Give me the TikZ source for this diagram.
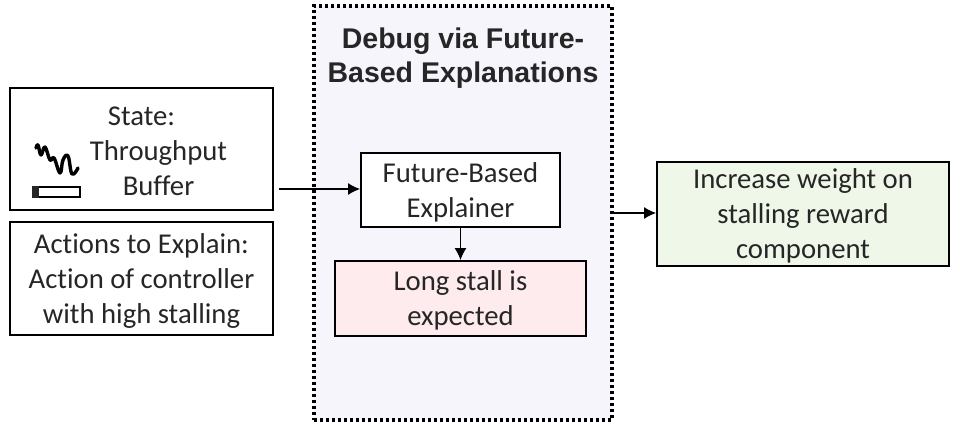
\documentclass[tikz,border=0pt]{standalone}
\usepackage{fontspec}
\setmainfont[Ligatures=NoCommon]{Carlito}
\newfontfamily\headfont{Liberation Sans}
\usetikzlibrary{arrows.meta}
\definecolor{ink}{HTML}{262626}
\definecolor{lav}{HTML}{F6F5FC}
\definecolor{pinkfill}{HTML}{FDEBEE}
\definecolor{greenfill}{HTML}{EFF7E8}
\newcommand{\topfix}{\rule{0pt}{24pt}}
\tikzset{
  x=1pt,y=-1pt,
  box/.style={draw=black,line width=1.8pt,minimum width=#1,inner sep=0pt,align=center,text=ink,font=\fontsize{28.7}{35}\selectfont},
  flow/.style={draw=black,line width=1.5pt,-{Latex[length=12pt,width=12pt]}},
}
\begin{document}
\begin{tikzpicture}
\useasboundingbox (0,0) rectangle (960,425);
\node[draw=black,fill=lav,line width=3.4pt,dash pattern=on 3.2pt off 2.8pt,minimum width=298pt,minimum height=414pt,inner sep=0pt] (dbg) at (463,213) {};
\node[text=ink,font=\headfont\bfseries\fontsize{28.5}{34}\selectfont,align=center,inner sep=0pt] (title) at (463,58) {Debug via Future-\\Based Explanations};
\node[box=263pt,minimum height=122pt,fill=white] (state) at (141.5,149) {\topfix State:\\\hspace*{34pt}Throughput\\\hspace*{34pt}Buffer};
\node[box=263pt,minimum height=113pt,fill=white] (actions) at (141.5,278.5) {\topfix Actions to Explain:\\Action of controller\\with high stalling};
\node[box=199pt,minimum height=74pt,fill=white] (expl) at (460.5,190) {\topfix Future-Based\\Explainer};
\node[box=251pt,minimum height=75pt,fill=pinkfill] (stall) at (460.5,298.5) {\topfix Long stall is\\expected};
\node[box=292pt,minimum height=104pt,fill=greenfill] (incr) at (803,214) {\topfix Increase weight on\\stalling reward\\component};
\coordinate (sa) at (279,189);
\draw[flow] (sa) -- (sa -| expl.west);
\draw[flow] (expl.south) -- (stall.north);
\draw[flow] (dbg.east) -- (dbg.east -| incr.west);
% throughput squiggle and buffer icon
\draw[black,line width=3.4pt,line cap=round,line join=round] plot[smooth,tension=0.7] coordinates {(36,148)(38,145)(41,155)(45,147)(50,160)(54,158)(60,173)(63,160)(68,156)(72,174)(78,168)};
\node[draw=black,fill=white,line width=2.8pt,minimum width=47pt,minimum height=10pt,inner sep=0pt] (buf) at (56.5,192) {};
\fill[ink] (buf.south west) rectangle ([xshift=7pt]buf.north west);
\end{tikzpicture}
\end{document}
